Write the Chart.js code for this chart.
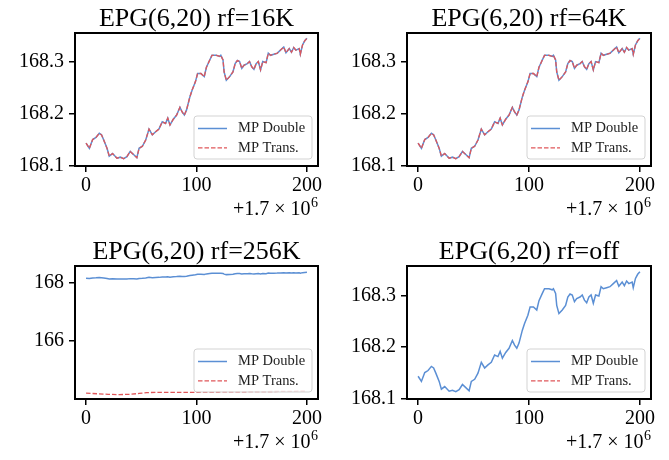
<!DOCTYPE html>
<html>
<head>
<meta charset="utf-8">
<script src="https://cdn.jsdelivr.net/npm/chart.js@4.4.1/dist/chart.umd.min.js"></script>
<style>
  html, body { margin: 0; padding: 0; background: #fff; }
  body { width: 669px; height: 460px; position: relative; overflow: hidden; }
  canvas { position: absolute; }
</style>
</head>
<body>
<canvas id="c1" width="334" height="230" style="left:0;top:0;width:334px;height:230px"></canvas>
<canvas id="c2" width="335" height="230" style="left:334px;top:0;width:335px;height:230px"></canvas>
<canvas id="c3" width="334" height="230" style="left:0;top:230px;width:334px;height:230px"></canvas>
<canvas id="c4" width="335" height="230" style="left:334px;top:230px;width:335px;height:230px"></canvas>
<script>
// ---------------- data ----------------
const titles = ['EPG(6,20) rf=16K', 'EPG(6,20) rf=64K', 'EPG(6,20) rf=256K', 'EPG(6,20) rf=off'];
const seriesNames = ['MP Double', 'MP Trans.'];
const offsetBase = '+1.7 \u00d7 10';
const offsetExp = '6';

// time step (offset by 1.7e6)
const steps = [0,3,6,9,12,14,16,19,21,24,28,31,34,37,40,43,46,48,51,54,
  57,60,63,66,69,72,74,76,79,82,85,87,89,91,94,96,99,101,104,107,
  109,112,114,118,121,122,124,125,127,130,133,135,137,139,141,143,146,148,150,152,
  154,156,158,160,163,165,167,170,173,176,179,181,184,186,188,190,193,194,196,198,200];

// MP Double energy
const mpDouble = [168.144,168.134,168.151,168.155,168.163,168.160,168.150,168.134,168.119,168.124,
  168.115,168.117,168.114,168.118,168.128,168.122,168.116,168.134,168.138,168.150,
  168.171,168.160,168.166,168.171,168.185,168.182,168.192,168.179,168.190,168.198,
  168.213,168.204,168.198,168.208,168.233,168.246,168.262,168.278,168.278,168.272,
  168.290,168.304,168.313,168.313,168.311,168.313,168.304,168.281,168.265,168.272,
  168.281,168.297,168.303,168.301,168.288,168.294,168.297,168.301,168.291,168.286,
  168.297,168.301,168.285,168.301,168.299,168.317,168.313,168.315,168.317,168.323,
  168.329,168.318,168.326,168.319,168.328,168.323,168.326,168.315,168.333,168.341,168.346];

// MP Trans. for rf=16K and rf=64K coincide with MP Double
const mpTrans16K = mpDouble.slice();
const mpTrans64K = mpDouble.slice();

// MP Trans. for rf=256K (drifts far below)
const steps256 = [0,5,10,20,30,40,48,55,70,100,120,150,180,200];
const mpTrans256K = [164.21,164.20,164.19,164.17,164.16,164.17,164.20,164.23,164.24,164.24,164.25,164.26,164.27,164.28];

// MP Trans. for rf=off: no values
const stepsOff = [];
const mpTransOff = [];

const xTicks = [0, 100, 200];
const yTicksFine = [168.1, 168.2, 168.3];
const yTicks256 = [166, 168];

// ---------------- styles ----------------
const BLUE = '#5b8fd4';
const RED = '#e0575a';
const FONT = 'Liberation Serif';

function pts(xs, ys) { return xs.map((x, i) => ({ x: x, y: ys[i] })); }

const framePlugin = {
  id: 'frame',
  afterDatasetsDraw(chart) {
    const { ctx, chartArea: a } = chart;
    ctx.save();
    ctx.strokeStyle = '#000';
    ctx.lineWidth = 2;
    ctx.strokeRect(a.left, a.top, a.right - a.left, a.bottom - a.top);
    ctx.restore();
  }
};

const offsetTextPlugin = {
  id: 'offsetText',
  afterDraw(chart) {
    const { ctx, chartArea: a } = chart;
    const base = a.bottom + 48.5;
    ctx.save();
    ctx.fillStyle = '#000';
    ctx.textBaseline = 'alphabetic';
    ctx.textAlign = 'right';
    ctx.font = '14px "' + FONT + '"';
    const we = ctx.measureText(offsetExp).width;
    ctx.fillText(offsetExp, a.right, base - 8);
    ctx.font = '20px "' + FONT + '"';
    ctx.fillText(offsetBase, a.right - we - 0.5, base);
    ctx.restore();
  }
};

const boxLegendPlugin = {
  id: 'boxLegend',
  afterDraw(chart) {
    const { ctx, chartArea: a } = chart;
    const w = 118, h = 43;
    const x = a.right - 6 - w, y = a.bottom - 7 - h;
    ctx.save();
    ctx.beginPath();
    const r = 3;
    ctx.moveTo(x + r, y);
    ctx.lineTo(x + w - r, y); ctx.arcTo(x + w, y, x + w, y + r, r);
    ctx.lineTo(x + w, y + h - r); ctx.arcTo(x + w, y + h, x + w - r, y + h, r);
    ctx.lineTo(x + r, y + h); ctx.arcTo(x, y + h, x, y + h - r, r);
    ctx.lineTo(x, y + r); ctx.arcTo(x, y, x + r, y, r);
    ctx.closePath();
    ctx.fillStyle = 'rgba(255,255,255,0.8)';
    ctx.fill();
    ctx.strokeStyle = 'rgba(200,200,200,0.8)';
    ctx.lineWidth = 1;
    ctx.stroke();
    chart.data.datasets.forEach((ds, i) => {
      const cy = y + 12.5 + i * 19.4;
      ctx.beginPath();
      ctx.setLineDash(ds.borderDash || []);
      ctx.strokeStyle = ds.borderColor;
      ctx.lineWidth = ds.borderWidth;
      ctx.moveTo(x + 4, cy);
      ctx.lineTo(x + 33, cy);
      ctx.stroke();
      ctx.setLineDash([]);
      ctx.fillStyle = '#222';
      ctx.font = '14.5px "' + FONT + '"';
      ctx.textBaseline = 'middle';
      ctx.textAlign = 'left';
      ctx.fillText(ds.label, x + 44, cy);
    });
    ctx.restore();
  }
};

function makePanel(id, p) {
  new Chart(document.getElementById(id), {
    type: 'line',
    data: {
      datasets: [
        { label: seriesNames[0], data: pts(steps, mpDouble), borderColor: BLUE, borderWidth: 1.5,
          pointRadius: 0, tension: 0, fill: false, order: 1 },
        { label: seriesNames[1], data: pts(p.transX, p.transY), borderColor: RED, borderWidth: 1.3,
          borderDash: [4.5, 2], pointRadius: 0, tension: 0, fill: false, order: 0 }
      ]
    },
    options: {
      responsive: false,
      animation: false,
      devicePixelRatio: 1,
      layout: { padding: { left: 0, right: p.padRight, top: 0, bottom: 0 } },
      plugins: {
        legend: { display: false },
        tooltip: { enabled: false },
        title: {
          display: true, text: p.title, fullSize: false, color: '#000',
          font: { family: FONT, size: 26, weight: 'normal', lineHeight: 1 },
          padding: { top: p.titleTop, bottom: 0.5 }
        }
      },
      scales: {
        x: {
          type: 'linear', min: -10, max: 210,
          afterBuildTicks: s => { s.ticks = xTicks.map(v => ({ value: v })); },
          afterFit: s => { s.height = p.xHeight; },
          grid: { display: true, drawOnChartArea: false, drawTicks: true, tickLength: 6, color: '#000', lineWidth: 1.5 },
          border: { display: false },
          ticks: { color: '#000', font: { family: FONT, size: 20 }, padding: 2, maxRotation: 0,
                   callback: v => String(v) }
        },
        y: {
          type: 'linear', min: p.yMin, max: p.yMax,
          afterBuildTicks: s => { s.ticks = p.yTicks.map(v => ({ value: v })); },
          afterFit: s => { s.width = p.yWidth; },
          grid: { display: true, drawOnChartArea: false, drawTicks: true, tickLength: 6, color: '#000', lineWidth: 1.5 },
          border: { display: false },
          ticks: { color: '#000', font: { family: FONT, size: 20 }, padding: 5,
                   callback: v => Number(v).toFixed(p.dec) }
        }
      }
    },
    plugins: [framePlugin, boxLegendPlugin, offsetTextPlugin]
  });
}

makePanel('c1', { title: titles[0], transX: steps, transY: mpTrans16K, yMin: 168.1, yMax: 168.356, yTicks: yTicksFine, dec: 1,
  padRight: 16, yWidth: 75, titleTop: 6.5, xHeight: 64 });
makePanel('c2', { title: titles[1], transX: steps, transY: mpTrans64K, yMin: 168.1, yMax: 168.356, yTicks: yTicksFine, dec: 1,
  padRight: 18, yWidth: 73, titleTop: 6.5, xHeight: 64 });
makePanel('c3', { title: titles[2], transX: steps256, transY: mpTrans256K, yMin: 164.01, yMax: 168.56, yTicks: yTicks256, dec: 0,
  padRight: 16, yWidth: 75, titleTop: 9.5, xHeight: 61 });
makePanel('c4', { title: titles[3], transX: stepsOff, transY: mpTransOff, yMin: 168.1, yMax: 168.357, yTicks: yTicksFine, dec: 1,
  padRight: 18, yWidth: 73, titleTop: 9.5, xHeight: 61 });
</script>
</body>
</html>
